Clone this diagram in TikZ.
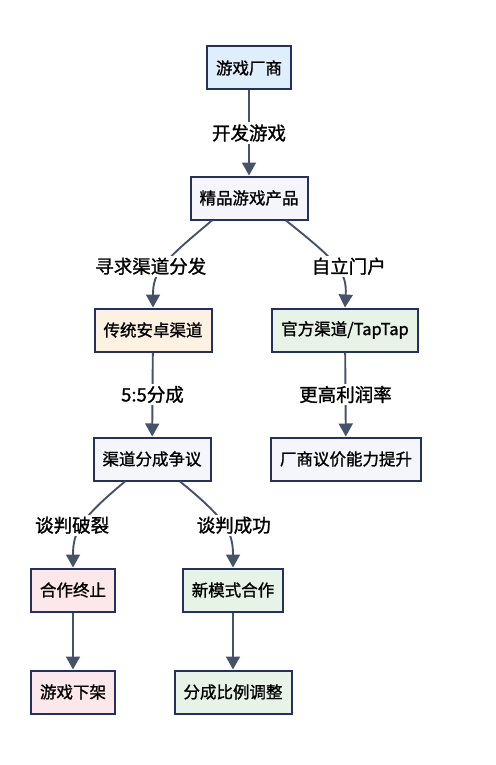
\documentclass[tikz,border=0pt]{standalone}
\usepackage{fontspec}
\setmainfont{Noto Sans CJK SC}[FakeBold=1.2]
\usetikzlibrary{arrows.meta}

\definecolor{edgeblue}{RGB}{36,48,96}
\definecolor{flowgray}{RGB}{70,82,102}
\definecolor{fillblue}{RGB}{222,239,251}
\definecolor{fillplain}{RGB}{244,246,252}
\definecolor{fillorange}{RGB}{253,241,225}
\definecolor{fillgreen}{RGB}{232,243,232}
\definecolor{fillpink}{RGB}{252,232,235}

\tikzset{
  box/.style={draw=edgeblue, line width=2pt, minimum height=43pt,
    inner xsep=9pt, font=\fontsize{16.5}{18}\selectfont, fill=fillplain},
  lbl/.style={fill=white, inner sep=2pt, font=\fontsize{18.5}{20}\selectfont},
  flow/.style={draw=flowgray, line width=1.9pt, -{Triangle[width=14pt,length=13pt]}}
}

\begin{document}
\begin{tikzpicture}[x=1pt, y=-1pt]
        \useasboundingbox (0,0) rectangle (495,765);
        % Boxes
        \node[box, fill=fillblue] (maker) at (249,68) {游戏厂商};
        \node[box] (product) at (249,198) {精品游戏产品};
        \node[box, fill=fillorange] (android) at (153,330) {传统安卓渠道};
        \node[box, fill=fillgreen] (official) at (345,330) {官方渠道/TapTap};
        \node[box] (dispute) at (152,459) {渠道分成争议};
        \node[box] (bargain) at (346,459) {厂商议价能力提升};
        \node[box, fill=fillpink] (stop) at (73,590) {合作终止};
        \node[box, fill=fillgreen] (newmode) at (233,590) {新模式合作};
        \node[box, fill=fillpink] (offshelf) at (73,692) {游戏下架};
        \node[box, fill=fillgreen] (ratio) at (233,692) {分成比例调整};
        % Flows
        \draw[flow] (maker) -- node[lbl] {开发游戏} (product);
        \draw[flow] ([xshift=-37pt]product.south) .. controls (162,262) and (153,272) .. (android.north)
          node[lbl, pos=0.5, xshift=-13pt] {寻求渠道分发};
        \draw[flow] ([xshift=37pt]product.south) .. controls (338,262) and (347,272) .. (official.north)
          node[lbl, pos=0.5, xshift=13pt] {自立门户};
        \draw[flow] (android) -- node[lbl] {5:5分成} (dispute);
        \draw[flow] (official) -- node[lbl] {更高利润率} (bargain);
        \draw[flow] ([xshift=-27pt]dispute.south) .. controls (80,519) and (73,532) .. (stop.north)
          node[lbl, pos=0.5, xshift=-10pt] {谈判破裂};
        \draw[flow] ([xshift=28pt]dispute.south) .. controls (226,519) and (233,532) .. (newmode.north)
          node[lbl, pos=0.5, xshift=10pt] {谈判成功};
        \draw[flow] (stop) -- (offshelf);
        \draw[flow] (newmode) -- (ratio);
\end{tikzpicture}
\end{document}
